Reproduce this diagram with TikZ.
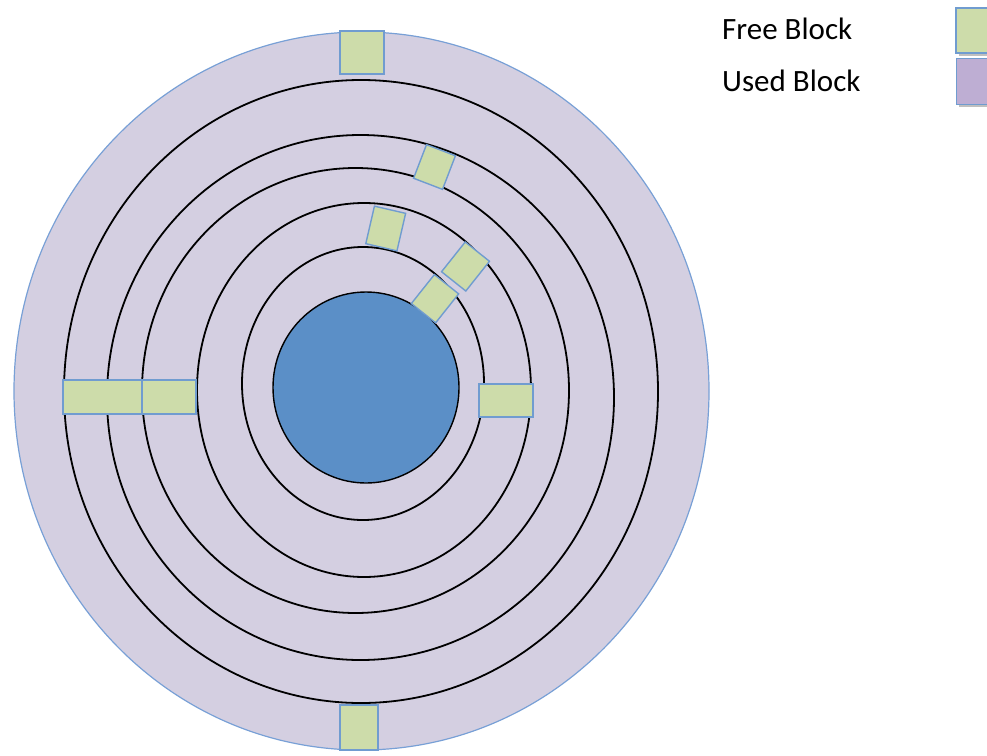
\documentclass[tikz,border=0pt]{standalone}
\usepackage{fontspec}
\setmainfont{Carlito}
\definecolor{disk}{RGB}{212,207,225}
\definecolor{diskedge}{RGB}{120,160,214}
\definecolor{freeg}{RGB}{205,220,170}
\definecolor{boxedge}{RGB}{112,156,208}
\definecolor{hub}{RGB}{91,143,199}
\definecolor{usedp}{RGB}{190,174,211}
\tikzset{
  ring/.style={draw=black, line width=1.8pt},
  freeblk/.style={draw=boxedge, fill=freeg, line width=1.4pt, inner sep=0pt, outer sep=0pt},
  legtext/.style={anchor=base west, inner sep=0pt, font=\fontsize{31}{37}\selectfont},
}
\begin{document}
\begin{tikzpicture}[x=1pt,y=-1pt]
\useasboundingbox (0,0) rectangle (987,755);
\begin{scope}
\clip (0,0) rectangle (987,755);
% disk
\draw[fill=disk, draw=diskedge, line width=1.2pt] (361.5,391) ellipse [x radius=347.5, y radius=359];
% rings
\draw[ring] (361,391.5) ellipse [x radius=297, y radius=311.5];
\draw[ring] (360.5,397.5) ellipse [x radius=253.5, y radius=262.5];
\draw[ring] (355.5,390.5) ellipse [x radius=213.5, y radius=222.5];
\draw[ring] (364,390) ellipse [x radius=167, y radius=187];
\draw[ring] (363,383.5) ellipse [x radius=121, y radius=136.5];
% hub
\draw[fill=hub, draw=black, line width=1.4pt] (366,387.5) ellipse [x radius=93, y radius=95.5];
% free blocks
\node[freeblk, minimum width=44pt, minimum height=43pt] (ftop) at (362,52.5) {};
\node[freeblk, minimum width=38pt, minimum height=45pt] (fbot) at (359,727.5) {};
\node[freeblk, minimum width=79pt, minimum height=34pt] (fl1) at (102.5,397) {};
\node[freeblk, minimum width=54pt, minimum height=34pt] (fl2) at (169,397) {};
\node[freeblk, minimum width=54pt, minimum height=33pt] (fr) at (506,400.5) {};
\node[freeblk, minimum width=31pt, minimum height=36pt, rotate=-21] (fa) at (434.5,167) {};
\node[freeblk, minimum width=32pt, minimum height=38.5pt, rotate=-13] (fb) at (385.7,228.5) {};
\node[freeblk, minimum width=31pt, minimum height=38pt, rotate=-38.5] (fc) at (465.5,266.5) {};
\node[freeblk, minimum width=31pt, minimum height=37pt, rotate=-38.5] (fd) at (435,298.7) {};
% legend
\node[legtext] (lfree) at (722,39) {Free Block};
\node[legtext] (lused) at (722,91) {Used Block};
\fill[black!25] (959,11) rectangle (1000,56);
\fill[black!25] (959,61) rectangle (1000,107);
\node[freeblk, anchor=north west, minimum width=44pt, minimum height=45pt] (kfree) at (956,8) {};
\node[anchor=north west, draw=boxedge, fill=usedp, line width=1.4pt, inner sep=0pt, minimum width=44pt, minimum height=46pt] (kused) at (956,58) {};
\end{scope}
\end{tikzpicture}
\end{document}
